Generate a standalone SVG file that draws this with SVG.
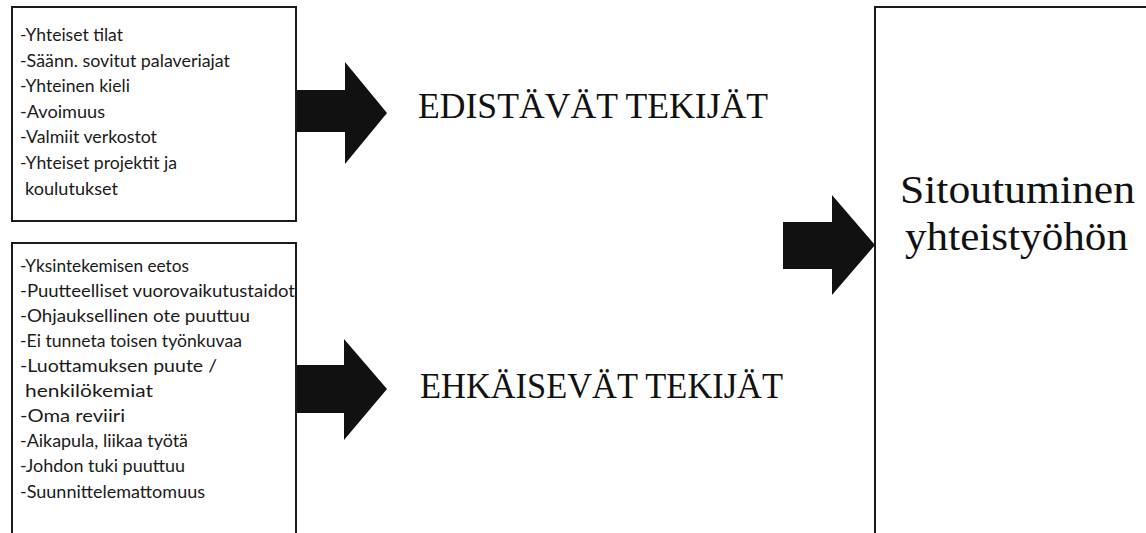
<svg xmlns="http://www.w3.org/2000/svg" width="1146" height="533" viewBox="0 0 1146 533">
<style>
.box{fill:#fff;stroke:#1a1a1a;stroke-width:2}
.list{font-family:Lato,"Open Sans","Liberation Sans",sans-serif;font-size:17px;fill:#1a1a1a}
.head{font-family:"Liberation Serif","DejaVu Serif",serif;font-size:36px;fill:#111}
.goal{font-family:"Liberation Serif","DejaVu Serif",serif;font-size:39px;fill:#111}
.arrow{fill:#111;stroke:none}
</style>
<rect width="1146" height="533" fill="#fff"/>
<g id="edistavat-box">
<rect class="box" x="12" y="7" width="284" height="214"/>
<text class="list" x="20" y="41" textLength="103" lengthAdjust="spacingAndGlyphs">-Yhteiset tilat</text>
<text class="list" x="20" y="67" textLength="210" lengthAdjust="spacingAndGlyphs">-Säänn. sovitut palaveriajat</text>
<text class="list" x="20" y="92" textLength="110" lengthAdjust="spacingAndGlyphs">-Yhteinen kieli</text>
<text class="list" x="20" y="118" textLength="85" lengthAdjust="spacingAndGlyphs">-Avoimuus</text>
<text class="list" x="20" y="143" textLength="137" lengthAdjust="spacingAndGlyphs">-Valmiit verkostot</text>
<text class="list" x="20" y="169" textLength="157" lengthAdjust="spacingAndGlyphs">-Yhteiset projektit ja</text>
<text class="list" x="25" y="195" textLength="93" lengthAdjust="spacingAndGlyphs">koulutukset</text>
</g>
<g id="ehkaisevat-box">
<rect class="box" x="12" y="243" width="284" height="300"/>
<text class="list" x="20" y="272" textLength="169" lengthAdjust="spacingAndGlyphs">-Yksintekemisen eetos</text>
<text class="list" x="20" y="297" textLength="275" lengthAdjust="spacingAndGlyphs">-Puutteelliset vuorovaikutustaidot</text>
<text class="list" x="20" y="322" textLength="230" lengthAdjust="spacingAndGlyphs">-Ohjauksellinen ote puuttuu</text>
<text class="list" x="20" y="347" textLength="222" lengthAdjust="spacingAndGlyphs">-Ei tunneta toisen työnkuvaa</text>
<text class="list" x="20" y="372" textLength="197" lengthAdjust="spacingAndGlyphs">-Luottamuksen puute /</text>
<text class="list" x="25" y="397" textLength="128" lengthAdjust="spacingAndGlyphs">henkilökemiat</text>
<text class="list" x="20" y="422" textLength="105" lengthAdjust="spacingAndGlyphs">-Oma reviiri</text>
<text class="list" x="20" y="447" textLength="168" lengthAdjust="spacingAndGlyphs">-Aikapula, liikaa työtä</text>
<text class="list" x="20" y="472" textLength="165" lengthAdjust="spacingAndGlyphs">-Johdon tuki puuttuu</text>
<text class="list" x="20" y="498" textLength="185" lengthAdjust="spacingAndGlyphs">-Suunnittelemattomuus</text>
</g>
<g id="edistavat-label">
<text class="head" x="418" y="118" textLength="350" lengthAdjust="spacingAndGlyphs">EDISTÄVÄT TEKIJÄT</text>
</g>
<g id="ehkaisevat-label">
<text class="head" x="420" y="398" textLength="363" lengthAdjust="spacingAndGlyphs">EHKÄISEVÄT TEKIJÄT</text>
</g>
<g id="sitoutuminen-box">
<rect class="box" x="875" y="7" width="300" height="540"/>
<text class="goal" x="900" y="203" textLength="235" lengthAdjust="spacingAndGlyphs">Sitoutuminen</text>
<text class="goal" x="905" y="250" textLength="223" lengthAdjust="spacingAndGlyphs">yhteistyöhön</text>
</g>
<g id="connectors">
<polygon class="arrow" points="297,90 345,90 345,62 387,113 345,164 345,132 297,132"/>
<polygon class="arrow" points="297,365 344,365 344,339 387,389 344,440 344,413 297,413"/>
<polygon class="arrow" points="783,222 832,222 832,195 875,245 832,295 832,269 783,269"/>
</g>
</svg>
